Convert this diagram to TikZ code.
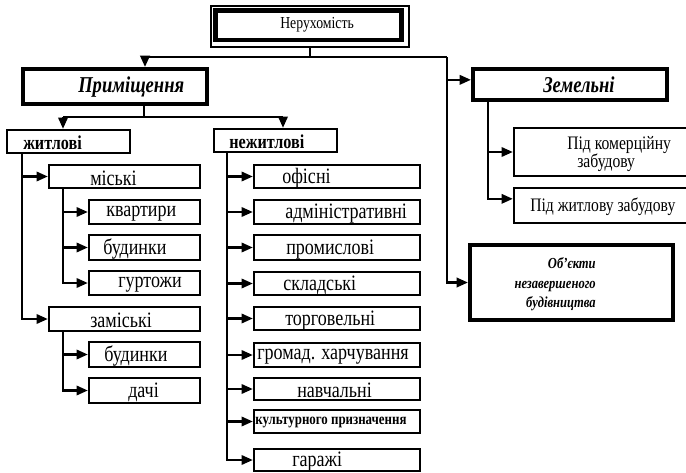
\documentclass[tikz,border=0pt]{standalone}
\usepackage{fontspec}
\setmainfont{Liberation Serif}[FakeStretch=0.82]
\usetikzlibrary{arrows.meta,fit}
\begin{document}
\begin{tikzpicture}[x=0.75pt,y=-0.75pt,
  box/.style={draw, line width=1.7pt, inner sep=0pt},
  bigbox/.style={draw, line width=3pt, inner sep=0pt},
  conn/.style={line width=1.8pt},
  arr/.style={conn, -{Triangle[length=8.5pt,width=7pt]}},
  txt/.style={inner sep=0pt, anchor=west, yshift=-1.2pt, font=\fontsize{16.5pt}{19pt}\selectfont},
  hd/.style={inner sep=0pt, anchor=west, font=\bfseries\itshape\fontsize{17pt}{19pt}\selectfont},
  bd/.style={inner sep=0pt, anchor=west, yshift=-0.8pt, font=\bfseries\fontsize{14.8pt}{17pt}\selectfont},
  ob/.style={inner sep=0pt, anchor=base east, font=\bfseries\itshape\fontsize{11.5pt}{14pt}\selectfont}
]
\useasboundingbox (0,0) rectangle (686,472);
\clip (0,0) rectangle (686,472);

% boxes
\node[draw, line width=0.9pt, inner sep=0pt, fit={(211,6)(409,47)}] (nerO) {};
\node[draw, line width=3.4pt, inner sep=0pt, fit={(215.5,10.5)(401.5,40)}] (ner) {};
\node[bigbox, fit={(23,69)(207,104)}] (prim) {};
\node[bigbox, fit={(473,69)(667,100)}] (zem) {};
\node[bigbox, fit={(470,245)(673,320)}] (obj) {};
\node[box, fit={(514,128)(700,176)}] (pk) {};
\node[box, fit={(514,188)(700,223)}] (pz) {};

\node[box, fit={(7,130)(130,153)}] (zhytl) {};
\node[box, fit={(214,129)(337,152)}] (nezh) {};

\node[box, fit={(49,165)(200,188)}] (mis) {};
\node[box, fit={(89,200)(200,224)}] (kv) {};
\node[box, fit={(89,235)(200,260)}] (bud) {};
\node[box, fit={(89,271)(200,295)}] (gur) {};
\node[box, fit={(49,307)(200,331)}] (zam) {};
\node[box, fit={(89,342)(200,367)}] (budz) {};
\node[box, fit={(89,378)(200,403)}] (dach) {};

\node[box, fit={(254,165)(420,188)}] (ofis) {};
\node[box, fit={(254,200)(420,224)}] (adm) {};
\node[box, fit={(254,235)(420,260)}] (prom) {};
\node[box, fit={(254,272)(420,295)}] (skl) {};
\node[box, fit={(254,307)(420,330)}] (torg) {};
\node[box, fit={(254,343)(420,367)}] (hrom) {};
\node[box, fit={(254,378)(420,400)}] (navch) {};
\node[box, fit={(254,410)(420,433)}] (kult) {};
\node[box, fit={(254,449)(420,471)}] (har) {};

% texts
\node[inner sep=0pt, anchor=west, font=\fontsize{12.6pt}{15pt}\selectfont] (nerT) at (280,25) {Нерухомість};
\node[hd] (primT) at (78,87) {Приміщення};
\node[hd] (zemT) at (543,85) {Земельні};
\node[ob] (objT1) at (596,268) {Об’єкти};
\node[ob] (objT2) at (596,288) {незавершеного};
\node[ob] (objT3) at (596,307) {будівництва};
\node[inner sep=0pt, anchor=west, align=left, font=\fontsize{14.3pt}{13.5pt}\selectfont] (pkT) at (567,154) {Під комерційну\\\hspace*{7.5pt}забудову};
\node[inner sep=0pt, anchor=west, yshift=-0.8pt, font=\fontsize{14.3pt}{16pt}\selectfont] (pzT) at (530,206) {Під житлову забудову};

\node[bd] (zhytlT) at (23,141.5) {житлові};
\node[bd] (nezhT) at (229,140.5) {нежитлові};

\node[txt] (misT) at (90,176.5) {міські};
\node[txt] (kvT) at (106,212) {квартири};
\node[txt] (budT) at (103,247.5) {будинки};
\node[txt] (gurT) at (118,283) {гуртожи};
\node[txt] (zamT) at (90,319) {заміські};
\node[txt] (budzT) at (104,354.5) {будинки};
\node[txt] (dachT) at (128,390.5) {дачі};

\node[txt] (ofisT) at (282,176.5) {офісні};
\node[txt] (admT) at (285,212) {адміністративні};
\node[txt] (promT) at (286,247.5) {промислові};
\node[txt] (sklT) at (283,283.5) {складські};
\node[txt] (torgT) at (285,318.5) {торговельні};
\node[txt] (hromT) at (257,355) {громад. харчування};
\node[txt] (navchT) at (297,389) {навчальні};
\node[inner sep=0pt, anchor=west, yshift=-0.6pt, font=\bfseries\fontsize{11.8pt}{13pt}\selectfont] (kultT) at (255,421.5) {культурного призначення};
\node[txt] (harT) at (292,460) {гаражі};

% junction coordinates
\coordinate (Pp) at (145,57);
\coordinate (Jr) at (447,57);
\coordinate (Ps) at (144,104);
\coordinate (Pl) at (63,117);
\coordinate (Pr) at (283,117);
\coordinate (Zt) at (22,153);
\coordinate (Mt) at (63,188);
\coordinate (Qt) at (63,331);
\coordinate (Nt) at (227,152);
\coordinate (Et) at (488,100);
\coordinate (zemA) at ([yshift=3.5pt]zem.west);
\coordinate (pzA) at ([yshift=5pt]pz.west);

% connectors
\draw[conn] (nerO.south) |- (Pp);
\draw[conn] (nerO.south) |- (Jr);
\draw[arr] (Pp) -- (Pp |- prim.north);
\draw[arr] (Jr) |- (obj.west);
\draw[arr] (Jr |- zemA) -- (zemA);

\draw[conn] (Ps) |- (Pl);
\draw[conn] (Ps) |- (Pr);
\draw[arr] (Pl) -- (Pl |- zhytl.north);
\draw[arr] (Pr) -- (Pr |- nezh.north);

\draw[arr] (Zt) |- (mis.west);
\draw[arr] (Zt) |- (zam.west);

\draw[arr] (Mt) |- (kv.west);
\draw[arr] (Mt) |- (bud.west);
\draw[arr] (Mt) |- (gur.west);
\draw[arr] (Qt) |- (budz.west);
\draw[arr] (Qt) |- (dach.west);

\draw[arr] (Nt) |- (ofis.west);
\draw[arr] (Nt) |- (adm.west);
\draw[arr] (Nt) |- (prom.west);
\draw[arr] (Nt) |- (skl.west);
\draw[arr] (Nt) |- (torg.west);
\draw[arr] (Nt) |- (hrom.west);
\draw[arr] (Nt) |- (navch.west);
\draw[arr] (Nt) |- (kult.west);
\draw[arr] (Nt) |- (har.west);

\draw[arr] (Et) |- (pk.west);
\draw[arr] (Et) |- (pzA);
\end{tikzpicture}
\end{document}
